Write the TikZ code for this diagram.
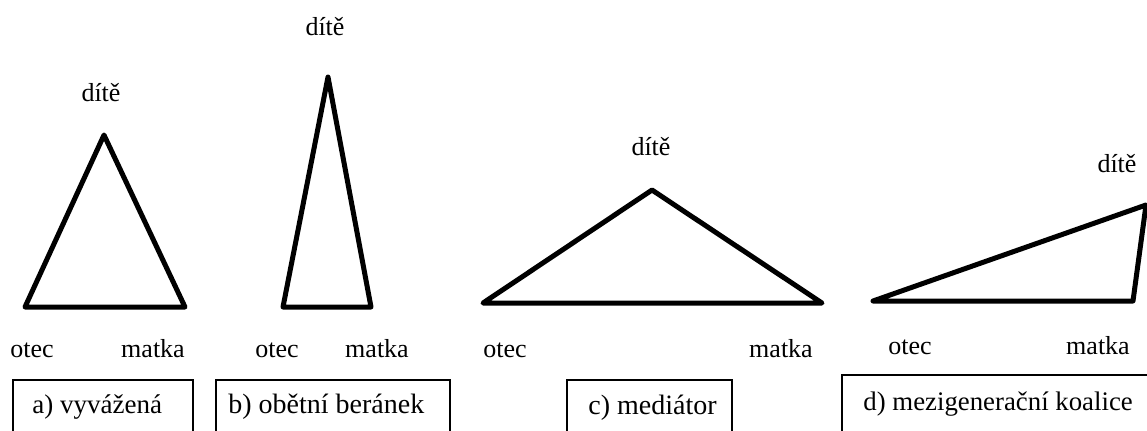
\documentclass[tikz,border=0pt]{standalone}
\usepackage{fontspec}
\setmainfont{Liberation Serif}
\begin{document}
\begin{tikzpicture}[x=0.5pt,y=-0.5pt,
  tri/.style={line width=2.5pt,line join=round,line cap=round},
  lbl/.style={inner sep=0pt,anchor=base,font=\fontsize{13}{15}\selectfont},
  captext/.style={inner sep=0pt,anchor=base west,font=\fontsize{#1}{16}\selectfont},
  frame/.style={draw,line width=1pt,inner sep=0pt,minimum width=#1*0.5pt},
]
\useasboundingbox (0,0) rectangle (1147,430);
\clip (0,0) rectangle (1147,430);

% a) balanced
\coordinate (a1) at (104,135);
\coordinate (a2) at (25,307);
\coordinate (a3) at (185,307);
\draw[tri] (a1) -- (a2) -- (a3) -- cycle;
\node[lbl] (ac) at (101,101) {dítě};
\node[lbl] (ao) at (32,357) {otec};
\node[lbl] (am) at (153,357) {matka};

% b) scapegoat
\coordinate (b1) at (328,77);
\coordinate (b2) at (283,307);
\coordinate (b3) at (371,307);
\draw[tri] (b1) -- (b2) -- (b3) -- cycle;
\node[lbl] (bc) at (325,35) {dítě};
\node[lbl] (bo) at (277,357) {otec};
\node[lbl] (bm) at (377,357) {matka};

% c) mediator
\coordinate (c1) at (652,190);
\coordinate (c2) at (483,303);
\coordinate (c3) at (822,303);
\draw[tri] (c1) -- (c2) -- (c3) -- cycle;
\node[lbl] (cc) at (651,155) {dítě};
\node[lbl] (co) at (505,357) {otec};
\node[lbl] (cm) at (781,357) {matka};

% d) cross-generational coalition
\coordinate (d1) at (1146,205);
\coordinate (d2) at (873,301);
\coordinate (d3) at (1133,301);
\draw[tri] (d1) -- (d2) -- (d3) -- cycle;
\node[lbl] (dc) at (1117,172) {dítě};
\node[lbl] (do) at (910,354) {otec};
\node[lbl] (dm) at (1098,354) {matka};

% caption boxes (open towards the bottom edge)
\node[frame=180,minimum height=60*0.5pt] (abox) at (103,410) {};
\node[frame=234,minimum height=60*0.5pt] (bbox) at (333,410) {};
\node[frame=165,minimum height=60*0.5pt] (cbox) at (649.5,410) {};
\node[frame=318,minimum height=70*0.5pt] (dbox) at (1001,410) {};
\node[captext=13.5] (at) at (32,413) {a) vyvážená};
\node[captext=14] (bt) at (228,413) {b) obětní beránek};
\node[captext=14] (ct) at (588,414) {c) mediátor};
\node[captext=13.4] (dt) at (863,410) {d) mezigenerační koalice};
\end{tikzpicture}
\end{document}
